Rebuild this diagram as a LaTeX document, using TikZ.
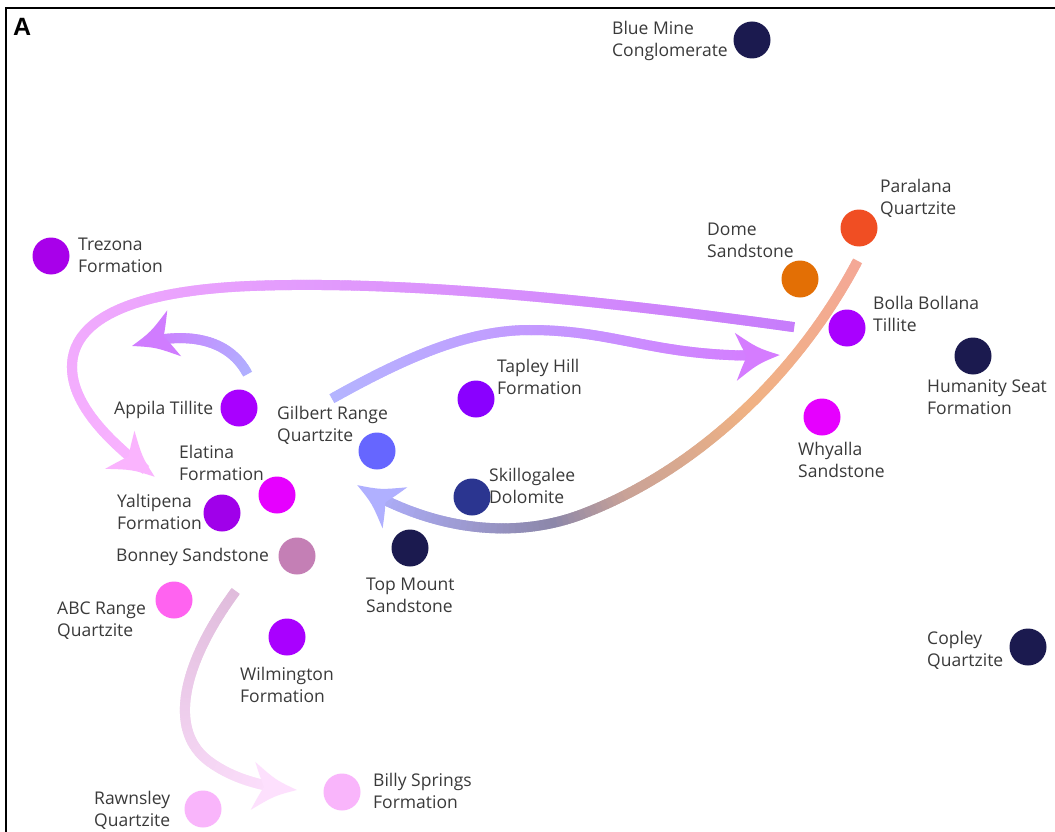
\documentclass[tikz,border=0pt]{standalone}
\usepackage{fontspec}
\setmainfont{Open Sans}
\newfontfamily\panelfont{Liberation Sans}
\usetikzlibrary{decorations.markings}
\definecolor{navy}{HTML}{1B1A4F}
\definecolor{labgray}{HTML}{3A3A3A}
\definecolor{cParalana}{HTML}{F04E23}
\definecolor{cDome}{HTML}{E36F05}
\definecolor{cPurple}{HTML}{A900FF}
\definecolor{cTrezona}{HTML}{A800EA}
\definecolor{cTapley}{HTML}{8A00FF}
\definecolor{cMagenta}{HTML}{E600FF}
\definecolor{cGilbert}{HTML}{6666FF}
\definecolor{cSkill}{HTML}{2B3590}
\definecolor{cYalt}{HTML}{A000EA}
\definecolor{cBonney}{HTML}{C47FB5}
\definecolor{cABC}{HTML}{FF63F0}
\definecolor{cLightPink}{HTML}{F9B5FB}
% gradient colours
\definecolor{oA}{HTML}{C77DFB}\definecolor{oB}{HTML}{FAB4FE}
\definecolor{tA}{HTML}{B0B0FF}\definecolor{tB}{HTML}{D07CFF}
\definecolor{hA}{HTML}{B4B4FF}\definecolor{hB}{HTML}{D57CFF}
\definecolor{vA}{HTML}{E0BCDC}\definecolor{vB}{HTML}{FDE0FD}
\definecolor{fA}{HTML}{F4A896}\definecolor{fB}{HTML}{F0B283}
\definecolor{fC}{HTML}{C9A297}\definecolor{fD}{HTML}{8C87A9}
\definecolor{fE}{HTML}{B0B0FF}
\newcommand\mixone[1]{\colorlet{cur}{oB!#1!oA}}
\newcommand\mixtwo[1]{\colorlet{cur}{tB!#1!tA}}
\newcommand\mixthree[1]{\colorlet{cur}{hB!#1!hA}}
\newcommand\mixfive[1]{\colorlet{cur}{vB!#1!vA}}
\newcommand\mixfour[1]{%
  \ifnum#1<30 \pgfmathtruncatemacro\q{#1*10/3}\colorlet{cur}{fB!\q!fA}%
  \else\ifnum#1<55 \pgfmathtruncatemacro\q{(#1-30)*4}\colorlet{cur}{fC!\q!fB}%
  \else\ifnum#1<68 \pgfmathtruncatemacro\q{(#1-55)*100/13}\colorlet{cur}{fD!\q!fC}%
  \else \pgfmathtruncatemacro\q{(#1-68)*100/32}\colorlet{cur}{fE!\q!fD}\fi\fi\fi}
\newcommand\twoline[1]{\begin{tabular}[t]{@{}l@{}}#1\end{tabular}}
\begin{document}
\begin{tikzpicture}[x=1pt,y=-1pt,
  dot/.style={circle, fill=#1, minimum size=37pt, inner sep=0pt},
  lab/.style={font=\fontsize{17.5}{22}\selectfont, text=labgray, inner sep=0pt, anchor=base west},
  grad/.style 2 args={postaction={decorate, decoration={markings,
    mark=between positions 0 and -16pt step 1.5pt with {%
      \pgfmathtruncatemacro\pct{min(100,(\pgfkeysvalueof{/pgf/decoration/mark info/distance from start}/(\pgfdecoratedpathlength-16pt))*100)}%
      #1{\pct}%
      \fill[cur] (-1.3pt,-5pt) rectangle (1.3pt,5pt);}}},
    postaction={decorate, decoration={markings,
    mark=at position 0.9995 with {%
      \fill[#2] (0pt,0pt) .. controls (-22pt,8pt) .. (-44pt,24pt) .. controls (-38pt,10pt) .. (-33pt,0pt)
        .. controls (-38pt,-10pt) .. (-44pt,-24pt) .. controls (-22pt,-8pt) .. (0pt,0pt);}
  }}}
]
\useasboundingbox (0,0) rectangle (1055,832);
\fill[white] (0,0) rectangle (1055,832);
\draw[line width=2pt] (6,832) -- (6,8) -- (1055,8);
\node[font=\panelfont\bfseries\fontsize{25}{25}\selectfont, inner sep=0pt, anchor=base west] (panel) at (13,36) {A};

% arrow end points
\coordinate (a1s) at (793,327); \coordinate (a1t) at (155,477);
\coordinate (a2s) at (247,373); \coordinate (a2t) at (132,346);
\coordinate (a3s) at (333,398); \coordinate (a3t) at (780,355);
\coordinate (a4s) at (857,262); \coordinate (a4t) at (357,485);
\coordinate (a5s) at (235,592); \coordinate (a5t) at (297,790);

\path[grad={\mixone}{oB}] (a1s) .. controls (600,300) and (400,280) .. (250,286)
  .. controls (130,291) and (72,320) .. (72,367) .. controls (72,410) and (120,450) .. (a1t);
\path[grad={\mixtwo}{tB}] (a2s) .. controls (228,338) and (185,330) .. (a2t);
\path[grad={\mixthree}{hB}] (a3s) .. controls (410,355) and (470,330) .. (530,330)
  .. controls (620,330) and (660,360) .. (a3t);
\path[grad={\mixfour}{fE}] (a4s) .. controls (800,370) and (700,470) .. (580,515)
  .. controls (520,537) and (440,535) .. (a4t);
\path[grad={\mixfive}{vB}] (a5s) .. controls (185,660) and (165,730) .. (210,762)
  .. controls (235,780) and (265,787) .. (a5t);

% formations
\node[dot=navy] (bluemine) at (752,40) {};
\node[lab] (bluemine-l) at (612,35) {\twoline{Blue Mine\\Conglomerate}};
\node[dot=cParalana] (paralana) at (859,228) {};
\node[lab] (paralana-l) at (880,192) {\twoline{Paralana\\Quartzite}};
\node[dot=cDome] (dome) at (800,279) {};
\node[lab] (dome-l) at (707,235) {\twoline{Dome\\Sandstone}};
\node[dot=cTrezona] (trezona) at (51,256) {};
\node[lab] (trezona-l) at (78,250) {\twoline{Trezona\\Formation}};
\node[dot=cPurple] (bolla) at (847,328) {};
\node[lab] (bolla-l) at (873,309) {\twoline{Bolla Bollana\\Tillite}};
\node[dot=navy] (humanity) at (973,356) {};
\node[lab] (humanity-l) at (927,392) {\twoline{Humanity Seat\\Formation}};
\node[dot=cTapley] (tapley) at (476,399) {};
\node[lab] (tapley-l) at (497,372) {\twoline{Tapley Hill\\Formation}};
\node[dot=cMagenta] (whyalla) at (822,417) {};
\node[lab] (whyalla-l) at (798,455) {\twoline{Whyalla\\Sandstone}};
\node[dot=cPurple] (appila) at (239,408) {};
\node[lab] (appila-l) at (114,414) {Appila Tillite};
\node[dot=cGilbert] (gilbert) at (377,451) {};
\node[lab] (gilbert-l) at (277,419) {\twoline{Gilbert Range\\Quartzite}};
\node[dot=cMagenta] (elatina) at (277,495) {};
\node[lab] (elatina-l) at (179,458) {\twoline{Elatina\\Formation}};
\node[dot=cSkill] (skill) at (472,497) {};
\node[lab] (skill-l) at (489,481) {\twoline{Skillogalee\\Dolomite}};
\node[dot=cYalt] (yalt) at (222,513) {};
\node[lab] (yalt-l) at (117,507) {\twoline{Yaltipena\\Formation}};
\node[dot=navy] (topmount) at (410,548) {};
\node[lab] (topmount-l) at (366,590) {\twoline{Top Mount\\Sandstone}};
\node[dot=cBonney] (bonney) at (297,556) {};
\node[lab] (bonney-l) at (116,561) {Bonney Sandstone};
\node[dot=cABC] (abc) at (174,600) {};
\node[lab] (abc-l) at (57,614) {\twoline{ABC Range\\Quartzite}};
\node[dot=cPurple] (wilmington) at (287,637) {};
\node[lab] (wilmington-l) at (240,680) {\twoline{Wilmington\\Formation}};
\node[dot=navy] (copley) at (1028,647) {};
\node[lab] (copley-l) at (927,644) {\twoline{Copley\\Quartzite}};
\node[dot=cLightPink] (billy) at (342,792) {};
\node[lab] (billy-l) at (373,786) {\twoline{Billy Springs\\Formation}};
\node[dot=cLightPink] (rawnsley) at (203,809) {};
\node[lab] (rawnsley-l) at (94,804) {\twoline{Rawnsley\\Quartzite}};
\end{tikzpicture}
\end{document}
